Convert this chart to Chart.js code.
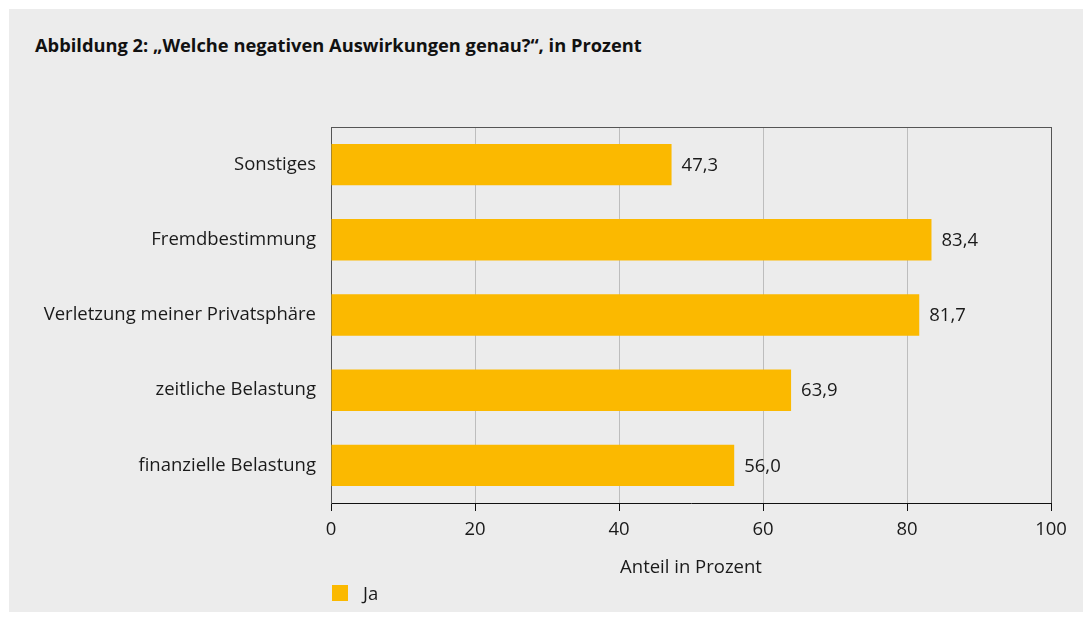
<!DOCTYPE html>
<html>
<head>
<meta charset="utf-8">
<script src="https://cdn.jsdelivr.net/npm/chart.js@4.4.1/dist/chart.umd.min.js"></script>
<style>
  html, body { margin: 0; padding: 0; background: #ffffff; }
  #wrap { position: relative; width: 1091px; height: 622px; overflow: hidden; }
  #panel { position: absolute; left: 9px; top: 9px; width: 1074px; height: 603px; background: #ececec; }
  #title { position: absolute; left: 35px; top: 32px; font: bold 18.3px "Open Sans", sans-serif; color: #111; white-space: nowrap; }
  #legend { position: absolute; left: 332px; top: 580px; font: 18.5px "Open Sans", sans-serif; color: #1a1a1a; display: flex; align-items: center; }
  #legend .box { width: 16px; height: 16px; background: #fbb900; margin-right: 15px; }
  canvas { position: absolute; left: 0; top: 0; }
</style>
</head>
<body>
<div id="wrap">
  <div id="panel"></div>
  <div id="title">Abbildung 2: „Welche negativen Auswirkungen genau?“, in Prozent</div>
  <canvas id="c" width="1091" height="622"></canvas>
  <div id="legend"><span class="box"></span><span id="legendText"></span></div>
</div>
<script>
const categories = ["Sonstiges", "Fremdbestimmung", "Verletzung meiner Privatsphäre", "zeitliche Belastung", "finanzielle Belastung"];
const seriesName = "Ja";
const values = [47.3, 83.4, 81.7, 63.9, 56.0];
const xTicks = [0, 20, 40, 60, 80, 100];
const axisTitle = "Anteil in Prozent";

document.getElementById('legendText').textContent = seriesName;

const FONT = "'Open Sans', sans-serif";
const FS = 18.5;
const TEXT = '#1a1a1a';

const frame = {
  id: 'frame',
  afterDatasetsDraw(chart) {
    const {ctx, chartArea: a} = chart;
    ctx.save();
    ctx.strokeStyle = '#555';
    ctx.lineWidth = 1;
    ctx.beginPath();
    ctx.moveTo(a.left, a.top + 0.5);
    ctx.lineTo(a.right, a.top + 0.5);
    ctx.stroke();
    ctx.restore();
  }
};

const valueLabels = {
  id: 'valueLabels',
  afterDatasetsDraw(chart) {
    const {ctx} = chart;
    const meta = chart.getDatasetMeta(0);
    ctx.save();
    ctx.font = FS + 'px ' + FONT;
    ctx.fillStyle = TEXT;
    ctx.textAlign = 'left';
    ctx.textBaseline = 'middle';
    meta.data.forEach((bar, i) => {
      const txt = values[i].toFixed(1).replace('.', ',');
      ctx.fillText(txt, bar.x + 10, bar.y + 1);
    });
    ctx.restore();
  }
};

new Chart(document.getElementById('c'), {
  type: 'bar',
  data: {
    labels: categories,
    datasets: [{
      label: seriesName,
      data: values,
      backgroundColor: '#fbb900',
      borderWidth: 0,
      categoryPercentage: 1,
      barPercentage: 0.55
    }]
  },
  options: {
    indexAxis: 'y',
    responsive: false,
    animation: false,
    devicePixelRatio: 1,
    layout: { padding: { left: 35, top: 127, right: 40, bottom: 29 } },
    plugins: {
      legend: { display: false },
      title: { display: false },
      tooltip: { enabled: false }
    },
    scales: {
      x: {
        min: 0, max: 100,
        afterBuildTicks(scale) { scale.ticks = xTicks.map(v => ({value: v})); },
        afterFit(scale) { scale.height = 90; },
        grid: {
          color: (c) => (c.index === 0 || c.index === xTicks.length - 1) ? '#555' : '#bdbdbd',
          tickColor: '#111',
          tickLength: 8,
          drawTicks: true
        },
        border: { color: '#111', width: 1 },
        ticks: { color: TEXT, font: { family: FONT, size: FS }, padding: 8 },
        title: { display: true, text: axisTitle, color: TEXT, font: { family: FONT, size: FS }, padding: { top: 0, bottom: 14 } }
      },
      y: {
        afterFit(scale) { scale.width = 331 - 35; },
        grid: { display: false, drawTicks: false },
        border: { color: '#555', width: 1 },
        ticks: { color: TEXT, font: { family: FONT, size: FS }, padding: 15 }
      }
    }
  },
  plugins: [frame, valueLabels]
});
</script>
</body>
</html>
